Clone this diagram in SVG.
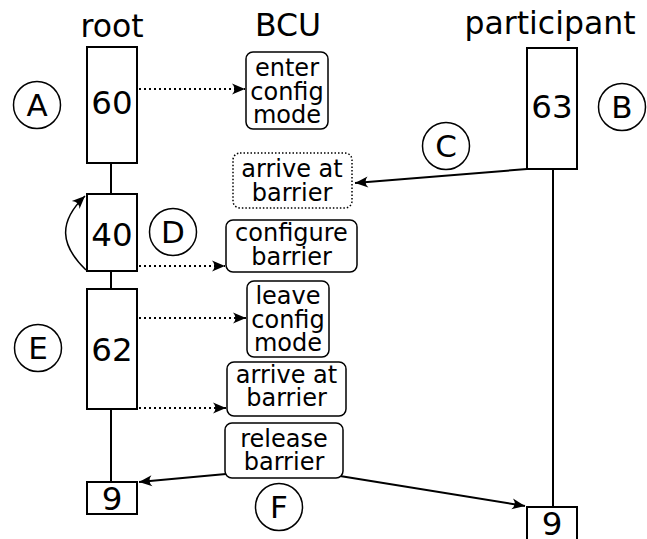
<svg xmlns="http://www.w3.org/2000/svg" width="647" height="539" viewBox="0 0 647 539">
  <style>
    text { font-family: "DejaVu Sans", "Liberation Sans", sans-serif; fill: #000; text-anchor: middle; }
    .title { font-size: 31.5px; }
    .num { font-size: 32.5px; }
    .tag { font-size: 31px; }
    .msg { font-size: 24px; }
    .act { fill: #fff; stroke: #000; stroke-width: 2; }
    .note { fill: #fff; stroke: #000; stroke-width: 1.5; }
    .note-dot { fill: #fff; stroke: #000; stroke-width: 1.5; stroke-dasharray: 1.5 2; }
    .tagc { fill: #fff; stroke: #000; stroke-width: 1.5; }
    .life { stroke: #000; stroke-width: 2; fill: none; }
    .call { stroke: #000; stroke-width: 2; fill: none; stroke-dasharray: 2 3; marker-end: url(#head); }
    .msgline { stroke: #000; stroke-width: 2; fill: none; marker-end: url(#head); }
    .self { stroke: #000; stroke-width: 1.5; fill: none; marker-end: url(#head); }
  </style>
  <defs>
    <marker id="head" markerWidth="16" markerHeight="12" viewBox="-14 -6 16 12" refX="0" refY="0" orient="auto" markerUnits="userSpaceOnUse">
      <path d="M0,0 L-13,-5.5 Q-8,0 -13,5.5 Z" fill="#000"/>
    </marker>
  </defs>

  <!-- lane titles -->
  <g id="titles">
    <text class="title" x="112" y="37">root</text>
    <text class="title" x="288" y="36">BCU</text>
    <text class="title" x="550" y="34">participant</text>
  </g>

  <!-- lifelines and messages -->
  <g id="connectors">
    <line class="life" x1="111" y1="163" x2="111" y2="194"/>
    <line class="life" x1="111" y1="271" x2="111" y2="289"/>
    <line class="life" x1="111" y1="409" x2="111" y2="482"/>
    <line class="life" x1="553" y1="169" x2="553" y2="507"/>
    <line class="call" x1="139" y1="89" x2="245" y2="89"/>
    <line class="call" x1="139" y1="266" x2="225" y2="266"/>
    <line class="call" x1="139" y1="318" x2="246" y2="318"/>
    <line class="call" x1="139" y1="408" x2="226" y2="408"/>
    <line class="msgline" x1="527" y1="169" x2="355" y2="183"/>
    <line class="msgline" x1="226" y1="474" x2="139" y2="482"/>
    <line class="msgline" x1="340" y1="476" x2="525" y2="506"/>
    <path class="self" d="M86,270 C60,245 58,222 85,196"/>
  </g>

  <!-- root activations -->
  <g id="act-60">
    <rect class="act" x="87" y="47" width="50" height="116"/>
    <text class="num" x="112" y="114">60</text>
  </g>
  <g id="act-40">
    <rect class="act" x="87" y="194" width="50" height="77"/>
    <text class="num" x="112" y="246">40</text>
  </g>
  <g id="act-62">
    <rect class="act" x="87" y="289" width="50" height="120"/>
    <text class="num" x="112" y="361">62</text>
  </g>
  <g id="root-end">
    <rect class="act" x="87" y="482" width="50" height="32"/>
    <text class="num" x="112" y="510">9</text>
  </g>

  <!-- participant activations -->
  <g id="act-63">
    <rect class="act" x="527" y="48" width="50" height="121"/>
    <text class="num" x="552" y="118">63</text>
  </g>
  <g id="participant-end">
    <rect class="act" x="527" y="507" width="50" height="40"/>
    <text class="num" x="552" y="535">9</text>
  </g>

  <!-- BCU operations -->
  <g id="enter-config">
    <rect class="note" x="246" y="52" width="82" height="77" rx="7"/>
    <text class="msg" x="287" y="76">enter</text>
    <text class="msg" x="287" y="99.5">config</text>
    <text class="msg" x="287" y="123">mode</text>
  </g>
  <g id="arrive-participant">
    <rect class="note-dot" x="233" y="153" width="119" height="55" rx="7"/>
    <text class="msg" x="292" y="177">arrive at</text>
    <text class="msg" x="292" y="201">barrier</text>
  </g>
  <g id="configure">
    <rect class="note" x="226" y="220" width="131" height="52" rx="7"/>
    <text class="msg" x="291.5" y="241">configure</text>
    <text class="msg" x="291.5" y="265">barrier</text>
  </g>
  <g id="leave-config">
    <rect class="note" x="247" y="281" width="82" height="76" rx="7"/>
    <text class="msg" x="288" y="304">leave</text>
    <text class="msg" x="288" y="328">config</text>
    <text class="msg" x="288" y="351">mode</text>
  </g>
  <g id="arrive-root">
    <rect class="note" x="227" y="362" width="119" height="54" rx="7"/>
    <text class="msg" x="286.5" y="383">arrive at</text>
    <text class="msg" x="286.5" y="406">barrier</text>
  </g>
  <g id="release">
    <rect class="note" x="225" y="423" width="118" height="55" rx="7"/>
    <text class="msg" x="284" y="447">release</text>
    <text class="msg" x="284" y="470">barrier</text>
  </g>

  <!-- step markers -->
  <g id="step-A">
    <circle class="tagc" cx="37" cy="105" r="23.5"/>
    <text class="tag" x="37" y="116">A</text>
  </g>
  <g id="step-B">
    <circle class="tagc" cx="622" cy="107" r="23.5"/>
    <text class="tag" x="622" y="118">B</text>
  </g>
  <g id="step-C">
    <circle class="tagc" cx="446" cy="146" r="23.5"/>
    <text class="tag" x="446" y="157">C</text>
  </g>
  <g id="step-D">
    <circle class="tagc" cx="173" cy="232" r="23.5"/>
    <text class="tag" x="173" y="243">D</text>
  </g>
  <g id="step-E">
    <circle class="tagc" cx="38" cy="348" r="23.5"/>
    <text class="tag" x="38" y="359">E</text>
  </g>
  <g id="step-F">
    <circle class="tagc" cx="279" cy="507" r="23.5"/>
    <text class="tag" x="279" y="518">F</text>
  </g>
</svg>
